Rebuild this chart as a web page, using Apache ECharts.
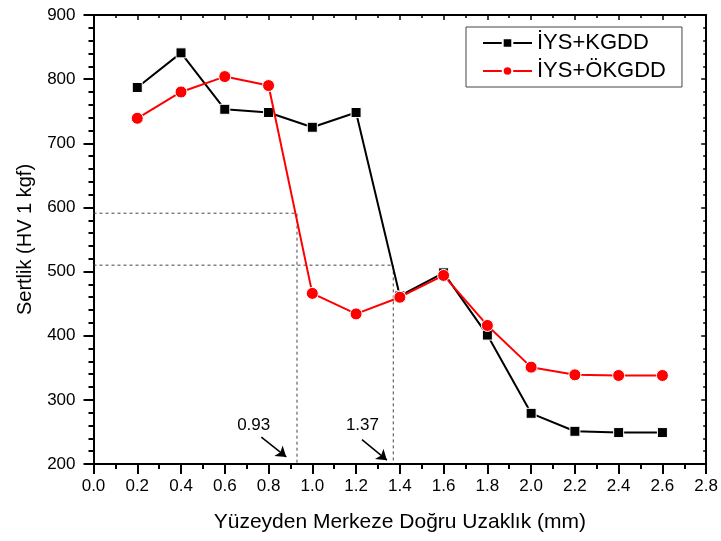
<!DOCTYPE html>
<html>
<head>
<meta charset="utf-8">
<script src="https://cdn.jsdelivr.net/npm/echarts@6/dist/echarts.min.js"></script>
<style>
  html, body { margin: 0; padding: 0; background: #fff; }
  #chart { width: 721px; height: 541px; }
</style>
</head>
<body>
<div id="chart"></div>
<script>
// mesafe (mm)
var distances = [0.2, 0.4, 0.6, 0.8, 1.0, 1.2, 1.4, 1.6, 1.8, 2.0, 2.2, 2.4, 2.6];
var kgdd = [787, 841, 753, 748, 725, 748, 462, 498, 401, 279, 251, 249, 249];
var okgdd = [739, 780, 804, 790, 466, 434, 460, 494, 416, 351, 339, 338, 338];

// kesikli yardimci cizgiler
var guide1X = [0, 0.93, 0.93];
var guide1Y = [591, 591, 200];
var guide2X = [0, 1.37, 1.37];
var guide2Y = [510, 510, 200];

// oklar ve etiketler
var arrowLabels = ['0.93', '1.37'];
var labelPos = [[0.732, 260], [1.229, 260]];
var arrowFrom = [[0.767, 242], [1.227, 238]];
var arrowTo = [[0.881, 211], [1.341, 206]];

var font = 'Liberation Sans, Arial, sans-serif';

function pairs(xs, ys) {
  return xs.map(function (x, i) { return [x, ys[i]]; });
}

var chart = echarts.init(document.getElementById('chart'));

var axisLine = { show: true, onZero: false, lineStyle: { color: '#000', width: 2 } };

var option = {
  animation: false,
  backgroundColor: '#fff',
  grid: { left: 93.5, right: 13.5, top: 15, bottom: 77 },
  legend: {
    left: 466, top: 27,
    orient: 'vertical',
    data: ['İYS+KGDD', 'İYS+ÖKGDD'],
    itemWidth: 49, itemHeight: 12, itemGap: 6,
    padding: [5, 16, 5, 16],
    borderColor: '#444', borderWidth: 1,
    textStyle: { fontFamily: font, fontSize: 22, color: '#000', lineHeight: 22 }
  },
  xAxis: [{
    type: 'value', min: 0, max: 2.8, interval: 0.2,
    name: 'Yüzeyden Merkeze Doğru Uzaklık (mm)',
    nameLocation: 'middle', nameGap: 48,
    nameTextStyle: { fontFamily: font, fontSize: 21, color: '#000' },
    axisLine: axisLine,
    axisTick: { show: true, length: 10, lineStyle: { color: '#000', width: 2 } },
    minorTick: { show: true, splitNumber: 2, length: 5, lineStyle: { color: '#000', width: 2 } },
    axisLabel: { fontFamily: font, fontSize: 17, color: '#000', margin: 14,
      formatter: function (v) { return v.toFixed(1); } },
    splitLine: { show: false }
  }, {
    type: 'value', min: 0, max: 2.8, interval: 0.2, position: 'top',
    axisLine: axisLine,
    axisTick: { show: true, inside: true, length: 5, lineStyle: { color: '#000', width: 1.5 } },
    minorTick: { show: true, splitNumber: 2, length: 3, lineStyle: { color: '#000', width: 1.5 } },
    axisLabel: { show: false },
    splitLine: { show: false }
  }],
  yAxis: [{
    type: 'value', min: 200, max: 900, interval: 100,
    name: 'Sertlik (HV 1 kgf)',
    nameLocation: 'middle', nameGap: 58,
    nameTextStyle: { fontFamily: font, fontSize: 20, color: '#000' },
    axisLine: axisLine,
    axisTick: { show: true, length: 10, lineStyle: { color: '#000', width: 2 } },
    minorTick: { show: true, splitNumber: 5, length: 5, lineStyle: { color: '#000', width: 2 } },
    axisLabel: { fontFamily: font, fontSize: 17, color: '#000', margin: 18 },
    splitLine: { show: false }
  }, {
    type: 'value', min: 200, max: 900, interval: 100, position: 'right',
    axisLine: axisLine,
    axisTick: { show: true, inside: true, length: 5, lineStyle: { color: '#000', width: 1.5 } },
    minorTick: { show: true, splitNumber: 5, length: 3, lineStyle: { color: '#000', width: 1.5 } },
    axisLabel: { show: false },
    splitLine: { show: false }
  }],
  series: [{
    name: 'guide1', type: 'line', data: pairs(guide1X, guide1Y),
    symbol: 'none', silent: true, z: 1,
    lineStyle: { color: '#444', width: 1, type: [3, 3] }
  }, {
    name: 'guide2', type: 'line', data: pairs(guide2X, guide2Y),
    symbol: 'none', silent: true, z: 1,
    lineStyle: { color: '#444', width: 1, type: [3, 3] }
  }, {
    name: 'İYS+KGDD', type: 'line', data: pairs(distances, kgdd),
    symbol: 'rect', symbolSize: 10, z: 3,
    lineStyle: { color: '#000', width: 2 },
    itemStyle: { color: '#000', borderColor: '#fff', borderWidth: 1 }
  }, {
    name: 'İYS+ÖKGDD', type: 'line', data: pairs(distances, okgdd),
    symbol: 'circle', symbolSize: 12, z: 4,
    lineStyle: { color: '#ff0000', width: 2 },
    itemStyle: { color: '#ff0000', borderColor: '#fff', borderWidth: 1 }
  }, {
    name: 'notes', type: 'line', data: [], silent: true, symbol: 'none',
    markLine: {
      silent: true, symbol: ['none', 'arrow'], symbolSize: 10,
      label: { show: false },
      lineStyle: { color: '#000', width: 1.5, type: 'solid' },
      itemStyle: { color: '#000' },
      data: arrowFrom.map(function (p, i) {
        return [{ coord: p }, { coord: arrowTo[i] }];
      })
    },
    markPoint: {
      silent: true, symbol: 'circle', symbolSize: 0,
      label: { show: true, position: 'inside', fontFamily: font, fontSize: 17, color: '#000',
        formatter: function (p) { return p.name; } },
      data: labelPos.map(function (p, i) {
        return { name: arrowLabels[i], coord: p };
      })
    }
  }]
};

chart.setOption(option);
window.onresize = chart.resize;
</script>
</body>
</html>
